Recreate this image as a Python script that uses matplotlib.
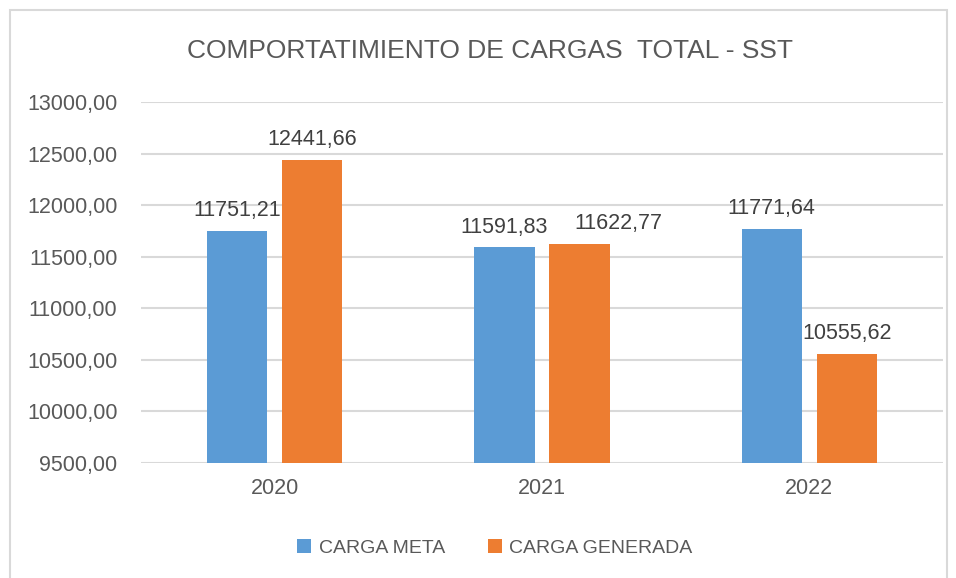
import matplotlib
matplotlib.use("Agg")
import matplotlib.pyplot as plt
from matplotlib.patches import Rectangle
import numpy as np

years = ["2020", "2021", "2022"]
carga_meta = [11751.21, 11591.83, 11771.64]
carga_generada = [12441.66, 11622.77, 10555.62]
y_ticks = [9500, 10000, 10500, 11000, 11500, 12000, 12500, 13000]

plt.rcParams["font.family"] = ["Liberation Sans", "DejaVu Sans"]

W, H = 956, 578
fig = plt.figure(figsize=(W / 100, H / 100), dpi=100)

# outer chart frame
fig.patches.append(Rectangle((9.5 / W, -0.02), (947 - 9.5) / W, 1 - 10 / H + 0.02,
                             transform=fig.transFigure, fill=False,
                             edgecolor="#d9d9d9", linewidth=1.5))

ax = fig.add_axes([141 / W, 1 - 463 / H, (943 - 141) / W, (463 - 102) / H])

def fmt(v):
    return f"{v:.2f}".replace(".", ",")

x = np.arange(len(years))
bw = 0.225
gap = 0.056
off = (bw + gap) / 2
blue = "#5b9bd5"
orange = "#ed7d31"
b1 = ax.bar(x - off, carga_meta, bw, color=blue, label="CARGA META", zorder=3)
b2 = ax.bar(x + off, carga_generada, bw, color=orange, label="CARGA GENERADA", zorder=3)

# horizontal nudge (points) for labels that would collide with a neighbour
nudge = {(1, 1): 28}

for si, (bars, vals) in enumerate(((b1, carga_meta), (b2, carga_generada))):
    for ci, (r, v) in enumerate(zip(bars, vals)):
        dx = nudge.get((si, ci), 0)
        ax.annotate(fmt(v), (r.get_x() + r.get_width() / 2, v), xytext=(dx, 7),
                    textcoords="offset points", ha="center", va="bottom",
                    fontsize=15.5, color="#404040", zorder=4)

ax.set_xlim(-0.5, 2.5)
ax.set_ylim(9500, 13000)
ax.set_yticks(y_ticks)
ax.set_yticklabels([fmt(v) for v in y_ticks])
ax.set_xticks(x)
ax.set_xticklabels(years)
ax.tick_params(axis="both", length=0, labelsize=15.5, labelcolor="#595959")
ax.tick_params(axis="y", pad=17)
ax.tick_params(axis="x", pad=11)
ax.grid(axis="y", color="#d9d9d9", linewidth=1.5, zorder=0)
for s in ax.spines.values():
    s.set_visible(False)

fig.text(490 / W, 1 - 51 / H, "COMPORTATIMIENTO DE CARGAS  TOTAL - SST",
         ha="center", va="center", fontsize=19, color="#595959")

fig.legend(handles=[b1, b2], loc="center", bbox_to_anchor=(495 / W, 1 - 548 / H),
           ncol=2, frameon=False, fontsize=14, labelcolor="#595959",
           handlelength=0.7, handleheight=0.7, handletextpad=0.4, columnspacing=2.2)

fig.savefig("out.png", dpi=100)
